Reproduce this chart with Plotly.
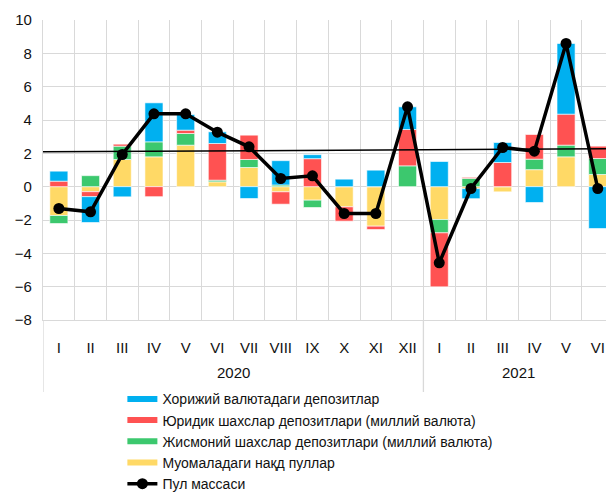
import plotly.graph_objects as go

# ---- data ----
months = ["I", "II", "III", "IV", "V", "VI", "VII", "VIII", "IX", "X", "XI", "XII",
          "I", "II", "III", "IV", "V", "VI"]
years = ["2020"] * 12 + ["2021"] * 6

cash = [-1.73, -0.30, 1.63, 1.79, 2.49, 0.29, 1.15, -0.31, -0.81, -1.21, -2.37, 0.00,
        -1.97, -0.12, -0.31, 1.02, 1.79, 0.73]
households = [-0.48, 0.66, 0.80, 0.90, 0.70, 0.10, 0.48, 0.10, -0.44, 0.00, 0.00, 1.25,
              -0.80, 0.50, 0.00, 0.63, 0.70, 0.96]
legal = [0.33, -0.30, 0.12, -0.60, 0.20, 2.20, 1.46, -0.74, 1.68, -0.86, -0.20, 2.18,
         -3.24, 0.06, 1.45, 1.48, 1.86, 0.74]
foreign = [0.60, -1.55, -0.61, 2.34, 0.94, 0.70, -0.71, 1.46, 0.24, 0.45, 0.99, 1.36,
           1.51, -0.60, 1.20, -0.95, 4.24, -2.51]
money = [-1.31, -1.51, 1.93, 4.37, 4.37, 3.27, 2.39, 0.49, 0.65, -1.61, -1.61, 4.79,
         -4.57, -0.11, 2.35, 2.13, 8.59, -0.11]
trend_values = [2.09, 2.28]   # level of the thin reference line at left / right edges

y_ticks = [-8, -6, -4, -2, 0, 2, 4, 6, 8, 10]

names = {
    "foreign": "Хорижий валютадаги депозитлар",
    "legal": "Юридик шахслар депозитлари (миллий валюта)",
    "households": "Жисмоний шахслар депозитлари (миллий валюта)",
    "cash": "Муомаладаги нақд пуллар",
    "money": "Пул массаси",
}
colors = {"foreign": "#00B0F0", "legal": "#FF5252", "households": "#3CC86E", "cash": "#FFD966"}

FONT = "Liberation Sans, Arial, sans-serif"
GRID = "#D9D9D9"

x = list(range(len(months)))
x_range = [-0.5, 17.26]

fig = go.Figure()
series = [("cash", cash), ("households", households), ("legal", legal), ("foreign", foreign)]
for key, vals in series:
    fig.add_trace(go.Bar(x=x, y=vals, name=names[key], width=0.57,
                         marker=dict(color=colors[key], line=dict(color="white", width=0.6)),
                         showlegend=False))

fig.add_trace(go.Scatter(x=x_range, y=trend_values, mode="lines",
                         line=dict(color="black", width=1.5), showlegend=False, hoverinfo="skip"))

fig.add_trace(go.Scatter(x=x, y=money, mode="lines+markers", name=names["money"],
                         line=dict(color="black", width=3.5),
                         marker=dict(color="black", size=11), legendrank=5))

# legend entries drawn as flat colour bars
rank = {"foreign": 1, "legal": 2, "households": 3, "cash": 4}
for key in ["foreign", "legal", "households", "cash"]:
    fig.add_trace(go.Scatter(x=[None], y=[None], mode="lines", name=names[key],
                             line=dict(color=colors[key], width=6), legendrank=rank[key]))

# year group labels and dividers under the axis
groups = []
for i, yv in enumerate(years):
    if not groups or groups[-1][0] != yv:
        groups.append([yv, i, i])
    else:
        groups[-1][2] = i
for yv, a, b in groups:
    fig.add_annotation(x=(a + b) / 2, y=-0.175, xref="x", yref="paper", text=yv,
                       showarrow=False, font=dict(family=FONT, size=15, color="#111"),
                       yanchor="middle")
    fig.add_shape(type="line", xref="x", yref="paper", x0=a - 0.5, x1=a - 0.5,
                  y0=0, y1=-0.24, line=dict(color=GRID, width=1.3))

fig.update_layout(
    width=606, height=492,
    margin=dict(l=43, r=0, t=20, b=172, autoexpand=False),
    paper_bgcolor="white", plot_bgcolor="white",
    barmode="relative", bargap=0.43,
    font=dict(family=FONT, size=15, color="#111"),
    showlegend=True,
    legend=dict(x=0.141, y=-0.211, xanchor="left", yanchor="top",
                font=dict(family=FONT, size=14, color="#111"),
                bgcolor="rgba(0,0,0,0)", itemwidth=30, tracegroupgap=0),
)
fig.update_xaxes(
    range=x_range, tickmode="array", tickvals=x, ticktext=months,
    showgrid=False, zeroline=False, automargin=False,
    showline=True, linecolor=GRID, linewidth=1.3, mirror=False,
    ticks="", ticklabelstandoff=14,
    tickfont=dict(family=FONT, size=15, color="#111"),
    minor=dict(tickvals=[v - 0.5 for v in x] + [17.5], showgrid=True,
               gridcolor=GRID, gridwidth=1.3, ticks=""),
)
fig.update_yaxes(
    range=[-8, 10], tickmode="array", tickvals=y_ticks,
    showgrid=True, gridcolor=GRID, gridwidth=1.3, automargin=False,
    zeroline=False, showline=True, linecolor=GRID, linewidth=1.3,
    ticks="", ticklabelstandoff=7,
    tickfont=dict(family=FONT, size=15, color="#111"),
)

fig.write_html("out.html", config={"displayModeBar": False},
               post_script="document.body.style.margin='0';document.body.style.overflow='hidden';")
